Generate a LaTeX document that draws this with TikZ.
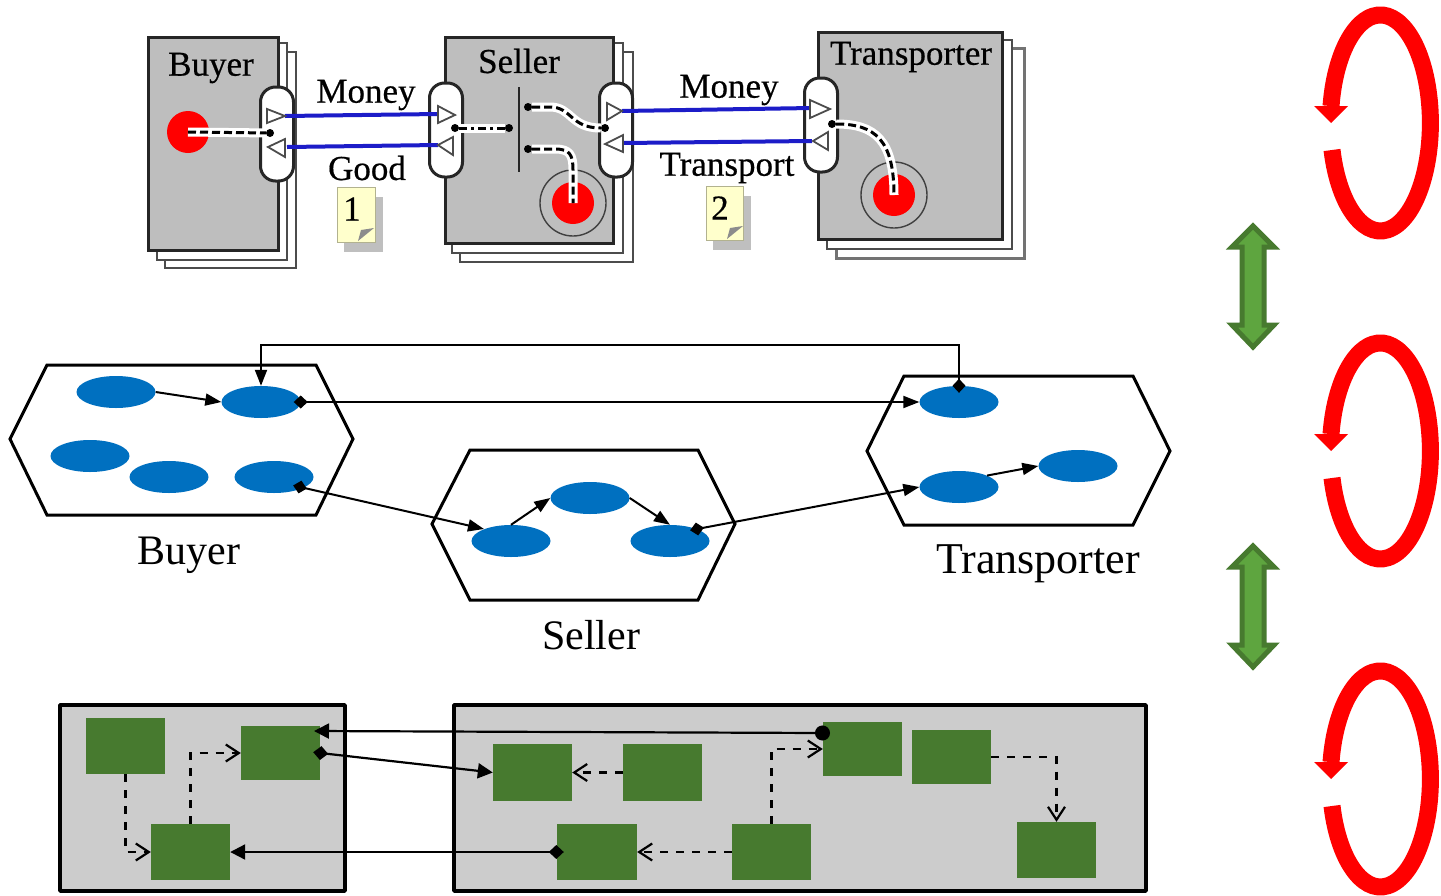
\documentclass[tikz,border=0pt]{standalone}
\usepackage{fontspec}
\setmainfont{Liberation Serif}
\newfontfamily\topfont[FakeBold=0.5]{Liberation Serif}
\usetikzlibrary{arrows.meta,shapes.geometric}
\definecolor{pagegray}{HTML}{BEBEBE}
\definecolor{panelgray}{HTML}{CCCCCC}
\definecolor{boxgreen}{HTML}{477A2F}
\definecolor{arrowgreen}{HTML}{5EA53F}
\definecolor{ellblue}{HTML}{0070C0}
\definecolor{noteyellow}{HTML}{FFFFCC}
\definecolor{wireblue}{HTML}{1C1CC8}
\tikzset{
	backpage/.style={draw=black!70,fill=white,line width=2.4},
	frontpage/.style={draw=black!85,fill=pagegray,line width=3},
	porto/.style={draw=black!85,fill=white,line width=3,rectangle,rounded corners=15,minimum width=33,minimum height=94,inner sep=0},
	porttri/.style={draw=black!70,fill=white,line width=1.8},
	wire/.style={line width=3,dash pattern=on 8 off 4,preaction={draw,white,solid,line width=9}},
	wiredot/.style={circle,fill=black,inner sep=0,minimum size=8},
	bluewire/.style={wireblue,line width=4},
	disc/.style={circle,fill=red,inner sep=0,minimum size=42},
	ring/.style={circle,draw=black!75,line width=1.4,inner sep=0,minimum size=66},
	toplabel/.style={font=\topfont\fontsize{35}{40}\selectfont,inner sep=0},
	biglabel/.style={font=\fontsize{42}{48}\selectfont,inner sep=0},
	hexa/.style={draw=black,fill=white,line width=3},
	ell/.style={ellipse,fill=ellblue,inner sep=0,minimum width=79,minimum height=32},
	link/.style={draw=black,line width=2,-{Triangle[length=16pt,width=12pt]}},
	dialink/.style={link,{Diamond[length=14pt,width=13pt]}-{Triangle[length=16pt,width=12pt]},shorten <=-7pt},
	panel/.style={draw=black,fill=panelgray,line width=3.6,line join=round},
	gbox/.style={fill=boxgreen,inner sep=0,minimum width=79},
	hard/.style={draw=black,line width=2.2,-{Triangle[length=15pt,width=15pt]}},
	soft/.style={draw=black,line width=2.2,dash pattern=on 8 off 8,-{Straight Barb[length=13pt,width=17pt]}},
	dblarrow/.style={draw=boxgreen,fill=arrowgreen,line width=5,line join=miter},
}
\begin{document}
\begin{tikzpicture}[x=1pt,y=-1pt]
	\useasboundingbox (0,0) rectangle (1441,895);
	% Buyer
	\draw[backpage] (165,52) rectangle (296,268);
	\draw[backpage] (157,43) rectangle (287,260);
	\draw[frontpage] (148,37) rectangle (278,250);
	\node[toplabel] (lblbuyer) at (211,68) {Buyer};
	\node[porto] (portbuyer) at (277,134) {};
	% Seller
	\draw[backpage] (460,52) rectangle (633,262);
	\draw[backpage] (452,43) rectangle (623,253);
	\draw[frontpage] (445,37) rectangle (613,243);
	\node[toplabel] (lblseller) at (519,61) {Seller};
	\node[porto] (portsellerl) at (446,130) {};
	\node[porto] (portsellerr) at (616,130) {};
	% Transporter
	\draw[backpage,draw=black!55,line width=3] (836,48) rectangle (1024,258);
	\draw[backpage] (827,40) rectangle (1012,249);
	\draw[frontpage] (818,32) rectangle (1002,239);
	\node[toplabel] (lbltrans) at (911,57) {Transporter};
	\node[porto] (porttrans) at (821,125) {};
	% Kanaele
	\coordinate (moneyaa) at (285,116);
	\coordinate (moneyab) at (438,114);
	\coordinate (goodaa) at (438,145);
	\coordinate (goodab) at (287,147);
	\coordinate (moneyba) at (622,111);
	\coordinate (moneybb) at (812,108);
	\coordinate (transa) at (812,141);
	\coordinate (transb) at (623,143);
	\draw[bluewire] (moneyaa) to (moneyab);
	\draw[bluewire] (goodaa) to (goodab);
	\draw[bluewire] (moneyba) to (moneybb);
	\draw[bluewire] (transa) to (transb);
	\draw[porttri] (267,109) to (267,123) to (285,116) to cycle;
	\draw[porttri] (268,147) to (285,139) to (285,157) to cycle;
	\draw[porttri] (438,106) to (438,123) to (455,115) to cycle;
	\draw[porttri] (438,145) to (453,137) to (453,155) to cycle;
	\draw[porttri] (607,103) to (607,120) to (622,111) to cycle;
	\draw[porttri] (605,144) to (623,135) to (623,152) to cycle;
	\draw[porttri] (810,100) to (810,118) to (830,109) to cycle;
	\draw[porttri] (813,141) to (828,132) to (828,150) to cycle;
	\node[toplabel] (lblmoneya) at (366,95) {Money};
	\node[toplabel] (lblgood) at (367,168) {Good};
	\node[toplabel] (lblmoneyb) at (729,90) {Money};
	\node[toplabel] (lbltransport) at (727,168) {Transport};
	% Zustaende
	\node[disc] (discbuyer) at (188,132) {};
	\node[ring] (ringseller) at (573,203) {};
	\node[disc] (discseller) at (573,203) {};
	\node[ring] (ringtrans) at (894,195) {};
	\node[disc] (disctrans) at (894,195) {};
	\node[wiredot] (dota) at (270,133) {};
	\node[wiredot] (dotb) at (455,128) {};
	\node[wiredot] (dotc) at (509,128) {};
	\node[wiredot] (dotd) at (528,107) {};
	\node[wiredot] (dote) at (605,128) {};
	\node[wiredot] (dotf) at (528,149) {};
	\node[wiredot] (dotg) at (832,124) {};
	\draw[draw=black!85,line width=2.6] (519,87) to (519,172);
	\draw[wire] (discbuyer.center) to (dota);
	\draw[wire,dash pattern=on 8 off 4 on 3 off 4] (dotb) to (dotc);
	\draw[wire] (dotd) to (550,107) .. controls (572,107) and (570,128) .. (dote);
	\draw[wire] (dotf) to (555,149) .. controls (570,149) and (573,155) .. (573,170) to (discseller.center);
	\draw[wire] (dotg) .. controls (875,124) and (894,140) .. (disctrans.center);
	% Notizen
	\fill[black!25] (344,197) rectangle (383,252);
	\draw[fill=noteyellow,draw=noteyellow!70!black,line width=0.8] (337,187) rectangle (375,242);
	\fill[black!45] (358,241) to (361,230) to (374,228) to cycle;
	\node[toplabel] (lblone) at (352,209) {1};
	\fill[black!25] (713,196) rectangle (751,250);
	\draw[fill=noteyellow,draw=noteyellow!70!black,line width=0.8] (706,186) rectangle (743,240);
	\fill[black!45] (727,239) to (730,228) to (743,226) to cycle;
	\node[toplabel] (lbltwo) at (720,208) {2};
	% Sechsecke
	\draw[hexa] (10,439) to (47,365) to (316,365) to (353,439) to (316,515) to (47,515) to cycle;
	\draw[hexa] (432,524) to (470,450) to (698,450) to (735,524) to (698,600) to (470,600) to cycle;
	\draw[hexa] (867,451) to (904,376) to (1133,376) to (1170,451) to (1133,525) to (904,525) to cycle;
	\node[ell] (buyera) at (116,392) {};
	\node[ell] (buyerb) at (261,402) {};
	\node[ell] (buyerc) at (90,456) {};
	\node[ell] (buyerd) at (169,477) {};
	\node[ell] (buyere) at (274,477) {};
	\node[ell] (sellera) at (511,541) {};
	\node[ell] (sellerb) at (590,498) {};
	\node[ell] (sellerc) at (670,541) {};
	\node[ell] (transpa) at (959,402) {};
	\node[ell] (transpb) at (959,487) {};
	\node[ell] (transpc) at (1078,466) {};
	\coordinate (buyerout) at (300,487);
	\coordinate (sellerin) at (484,529);
	\coordinate (sellerout) at (697,529);
	\draw[link] (buyera.east) to (buyerb.west);
	\draw[dialink] (buyerb.east) to (transpa.west);
	\draw[dialink] (buyerout) to (sellerin);
	\draw[link] (sellera.north) to (sellerb.west);
	\draw[link] (sellerb.east) to (sellerc.north);
	\draw[dialink] (sellerout) to (transpb.west);
	\draw[link] (transpb.north east) to (transpc.west);
	\draw[dialink] (transpa.north) to ++(0,-41) -| (buyerb.north);
	\node[biglabel] (capbuyer) at (189,555) {Buyer};
	\node[biglabel] (capseller) at (591,635) {Seller};
	\node[biglabel,font=\fontsize{44}{48}\selectfont] (captrans) at (1038,564) {Transporter};
	% Prozesse
	\draw[panel] (60,705) rectangle (345,891);
	\draw[panel] (454,705) rectangle (1146,891);
	\node[gbox,minimum height=56] (boxa) at (125.5,746) {};
	\node[gbox,minimum height=54] (boxb) at (280.5,753) {};
	\node[gbox,minimum height=56] (boxc) at (190.5,852) {};
	\node[gbox,minimum height=57] (boxd) at (532.5,772.5) {};
	\node[gbox,minimum height=57] (boxe) at (662.5,772.5) {};
	\node[gbox,minimum height=54] (boxf) at (862.5,749) {};
	\node[gbox,minimum height=54] (boxg) at (951.5,757) {};
	\node[gbox,minimum height=56,minimum width=80] (boxh) at (597,852) {};
	\node[gbox,minimum height=56] (boxi) at (771.5,852) {};
	\node[gbox,minimum height=56] (boxj) at (1056.5,850) {};
	\coordinate (portf) at (823,733);
	\coordinate (portb) at (314,731);
	\draw[hard,{Circle[length=15pt]}-{Triangle[length=15pt,width=15pt]},shorten <=-7pt] (portf) to (portb);
	\draw[hard,{Diamond[length=15pt,width=14pt]}-{Triangle[length=15pt,width=15pt]},shorten <=-7pt] (boxb.east) to (boxd.west);
	\draw[hard,{Diamond[length=15pt,width=14pt]}-{Triangle[length=15pt,width=15pt]},shorten <=-7pt] (boxh.west) to (boxc.east);
	\draw[soft] (boxa.south) |- (boxc.west);
	\draw[soft] (boxc.north) |- (boxb.west);
	\draw[soft] (boxe.west) to (boxd.east);
	\draw[soft] (boxi.north) |- (boxf.west);
	\draw[soft] (boxi.west) to (boxh.east);
	\draw[soft] (boxg.east) -| (boxj.north);
	% Pfeile rechts
	\foreach \y in {0,320}{
		\draw[dblarrow] (1253,226+\y) to (1274,247+\y) to (1264,247+\y) to (1264,325+\y) to (1274,325+\y) to (1253,347+\y) to (1232,325+\y) to (1242,325+\y) to (1242,247+\y) to (1232,247+\y) to cycle;
	}
	\foreach \y in {123,451,779}{
		\draw[red,line width=17] (1332,\y+27) arc[start angle=165.5,end angle=-171,x radius=50,y radius=108];
		\fill[red] (1314,\y-17) to (1348,\y-17) to (1331,\y) to cycle;
	}
\end{tikzpicture}
\end{document}
